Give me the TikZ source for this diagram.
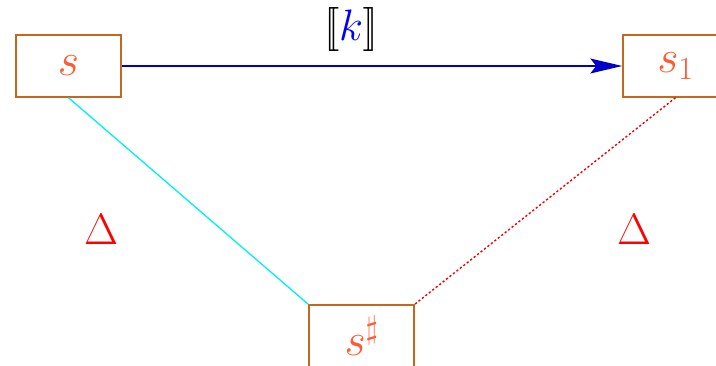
\RequirePackage{fix-cm}
\documentclass[tikz,border=0pt]{standalone}
\usetikzlibrary{arrows.meta}
\definecolor{boxc}{RGB}{196,104,30}
\definecolor{txtc}{RGB}{255,90,50}
\definecolor{arrc}{RGB}{0,0,200}
\definecolor{cyanc}{RGB}{0,240,240}
\definecolor{redc}{RGB}{240,0,0}
\tikzset{
  statebox/.style={draw=boxc, line width=1.5pt, minimum width=105pt, minimum height=62pt, inner sep=0pt, text=txtc, font=\fontsize{46}{50}\selectfont},
  deltalbl/.style={text=red, font=\fontsize{44}{48}\selectfont},
}
\begin{document}
\begin{tikzpicture}[x=1pt,y=-1pt]
\useasboundingbox (0,0) rectangle (716,366);
\node[statebox] (s) at (68.5,66) {$s$};
\node[statebox] (s1) at (675.5,66) {$s_1$};
\node[statebox] (sh) at (361.5,336) {$s^\sharp$};
\draw[arrc, line width=1.5pt, -{Stealth[length=32pt,width=15pt,inset=6pt]}] (s.east) -- (s1.west);
\node[font=\fontsize{44}{48}\selectfont] (k) at (351,30) {$[\![ \textcolor{blue}{k} ]\!]$};
\draw[cyanc, line width=1.3pt] (s.south) -- (sh.north west);
\draw[redc, line width=1.4pt, dash pattern=on 2.2pt off 2.2pt] (s1.south) -- (sh.north east);
\node[deltalbl] (d1) at (101,229) {$\Delta$};
\node[deltalbl] (d2) at (634,229) {$\Delta$};
\end{tikzpicture}
\end{document}
